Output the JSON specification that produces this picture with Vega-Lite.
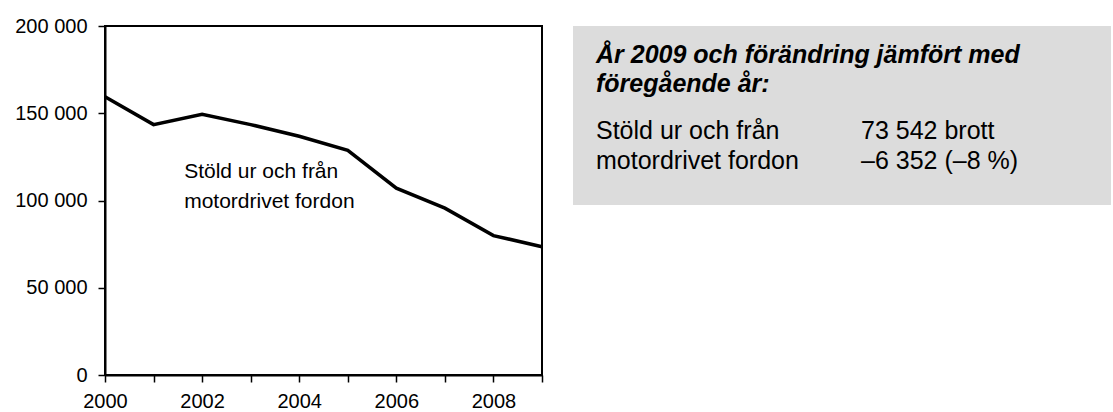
{
  "$schema": "https://vega.github.io/schema/vega-lite/v6.json",
  "padding": {"left": 13, "top": 15, "right": 0, "bottom": 0},
  "bounds": "flush",
  "spacing": 31,
  "background": "#ffffff",
  "config": {
    "font": "Liberation Sans",
    "view": {"stroke": "#000000", "strokeWidth": 2},
    "axis": {
      "labelFont": "Liberation Sans",
      "labelFontSize": 20,
      "labelColor": "#000000",
      "domainColor": "#000000",
      "domainWidth": 2,
      "tickColor": "#000000",
      "tickWidth": 1.5,
      "tickSize": 7,
      "grid": false
    }
  },
  "hconcat": [
    {
      "width": 437,
      "height": 349,
      "layer": [
        {
          "data": {"values": [
            {"year": 2000, "count": 159400},
            {"year": 2001, "count": 143500},
            {"year": 2002, "count": 149400},
            {"year": 2003, "count": 143500},
            {"year": 2004, "count": 136800},
            {"year": 2005, "count": 128700},
            {"year": 2006, "count": 107100},
            {"year": 2007, "count": 95600},
            {"year": 2008, "count": 79894},
            {"year": 2009, "count": 73542}
          ]},
          "mark": {"type": "line", "color": "#000000", "strokeWidth": 3.5},
          "encoding": {
            "x": {
              "field": "year", "type": "quantitative", "title": null,
              "scale": {"domain": [2000, 2009], "nice": false, "zero": false},
              "axis": {
                "values": [2000, 2001, 2002, 2003, 2004, 2005, 2006, 2007, 2008, 2009],
                "format": "d",
                "labelExpr": "datum.value % 2 == 0 ? datum.label : ''",
                "labelFlush": false,
                "labelOverlap": false,
                "labelPadding": 9
              }
            },
            "y": {
              "field": "count", "type": "quantitative", "title": null,
              "scale": {"domain": [0, 200000], "nice": false},
              "axis": {
                "values": [0, 50000, 100000, 150000, 200000],
                "labelExpr": "replace(format(datum.value, ','), ',', ' ')",
                "labelPadding": 11
              }
            }
          }
        },
        {
          "data": {"values": [
            {"year": 2001.63, "count": 113000, "label": "Stöld ur och från\nmotordrivet fordon"}
          ]},
          "mark": {"type": "text", "align": "left", "baseline": "alphabetic", "fontSize": 21, "lineBreak": "\n", "lineHeight": 30, "color": "#000000", "font": "Liberation Sans"},
          "encoding": {
            "x": {"field": "year", "type": "quantitative"},
            "y": {"field": "count", "type": "quantitative"},
            "text": {"field": "label"}
          }
        }
      ]
    },
    {
      "width": 538,
      "height": 179,
      "view": {"fill": "#dcdcdc", "stroke": null},
      "data": {"values": [
        {"section": "head", "col": "a", "text": "År 2009 och förändring jämfört med\nföregående år:"},
        {"section": "body", "col": "a", "text": "Stöld ur och från\nmotordrivet fordon"},
        {"section": "body", "col": "b", "text": "73 542 brott\n–6 352 (–8 %)"}
      ]},
      "encoding": {
        "x": {"field": "col", "type": "nominal", "axis": null, "scale": {"type": "point", "domain": ["a", "b"], "range": [23, 288], "padding": 0}},
        "y": {"field": "section", "type": "nominal", "axis": null, "scale": {"type": "point", "domain": ["head", "body"], "range": [37, 113], "padding": 0}},
        "text": {"field": "text"}
      },
      "layer": [
        {
          "transform": [{"filter": "datum.section == 'head'"}],
          "mark": {"type": "text", "align": "left", "baseline": "alphabetic", "fontSize": 25, "fontWeight": "bold", "fontStyle": "italic", "lineBreak": "\n", "lineHeight": 29, "color": "#000000", "font": "Liberation Sans"}
        },
        {
          "transform": [{"filter": "datum.section == 'body'"}],
          "mark": {"type": "text", "align": "left", "baseline": "alphabetic", "fontSize": 25, "lineBreak": "\n", "lineHeight": 30, "color": "#000000", "font": "Liberation Sans"}
        }
      ]
    }
  ]
}
